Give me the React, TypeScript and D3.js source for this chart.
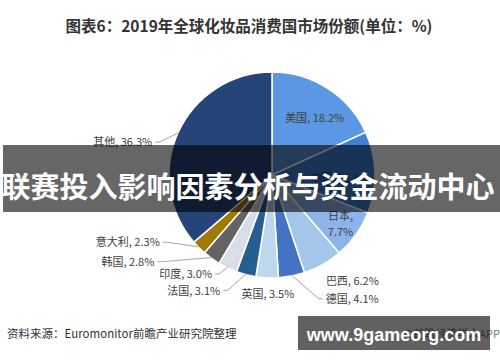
import React from 'react'
import * as d3 from 'd3'

// chart data
const countries = ['美国', '中国', '日本', '巴西', '德国', '英国', '法国', '印度', '韩国', '意大利', '其他']
const shares = [18.2, 12.8, 7.7, 6.2, 4.1, 3.5, 3.1, 3.0, 2.8, 2.3, 36.3]
const sliceColors = ['#5b97e2', '#3f7fd8', '#8db4ea', '#a4c6ea', '#4472c4', '#bdd7ee', '#255e91', '#d9dde5', '#636363', '#9e7b00', '#264478']

const titleText = '图表6：2019年全球化妆品消费国市场份额(单位：%)'
const sourceText = '资料来源：Euromonitor前瞻产业研究院整理'
const bannerText = '联赛投入影响因素分析与资金流动中心'
const siteText = 'www.9gameorg.com'
const appText = '@前瞻经济学人APP'

// where each label sits: angle shift (deg) from slice middle, radius as share of r
const labelSpots: Record<string, { shift: number; k: number; anchor: string; leader?: boolean; wrap?: boolean }> = {
    '美国': { shift: 3.5, k: 0.7, anchor: 'middle' },
    '中国': { shift: 3, k: 0.66, anchor: 'middle' },
    '日本': { shift: 0.3, k: 0.82, anchor: 'middle', wrap: true },
    '巴西': { shift: 3.6, k: 1.13, anchor: 'start' },
    '德国': { shift: -11.5, k: 1.29, anchor: 'start', leader: true },
    '英国': { shift: -0.7, k: 1.15, anchor: 'middle' },
    '法国': { shift: 8.5, k: 1.21, anchor: 'end', leader: true },
    '印度': { shift: 4.6, k: 1.1, anchor: 'end', leader: true },
    '韩国': { shift: 17.2, k: 1.39, anchor: 'end', leader: true },
    '意大利': { shift: 13.6, k: 1.24, anchor: 'end', leader: true },
    '其他': { shift: -8.5, k: 1.18, anchor: 'end', leader: true },
}

const W = 500
const H = 362
const cx = 272
const cy = 175
const r = 103
const font = '"Noto Sans CJK SC", "Noto Sans", sans-serif'

const polar = (a: number, rad: number): [number, number] => [cx + rad * Math.sin(a), cy - rad * Math.cos(a)]

const App = () => {
    const pie = d3.pie<number>().sort(null).value(d => d)
    const slices = pie(shares)
    const arc = d3.arc<d3.PieArcDatum<number>>().innerRadius(0).outerRadius(r)

    return (
        <svg width={W} height={H} style={{ position: 'absolute', left: 0, top: 0, background: '#fff' }} fontFamily={font}>
            <text x={249} y={25} textAnchor="middle" dominantBaseline="central" fontSize={15.5} fontWeight="bold" fill="#333">{titleText}</text>

            <g transform={`translate(${cx},${cy})`}>
                {slices.map((s, i) => (
                    <path key={countries[i]} d={arc(s) || ''} fill={sliceColors[i]} stroke="#fff" strokeWidth={1.5} />
                ))}
            </g>

            {slices.map((s, i) => {
                const name = countries[i]
                const spot = labelSpots[name]
                const mid = (s.startAngle + s.endAngle) / 2
                const [lx, ly] = polar(mid + (spot.shift * Math.PI) / 180, spot.k * r)
                const label = `${name}, ${shares[i].toFixed(1)}%`
                const gap = spot.anchor === 'end' ? -3 : spot.anchor === 'start' ? 3 : 0
                let leader = null
                if (spot.leader) {
                    const [px, py] = polar(mid, r - 1)
                    const bx = spot.anchor === 'end' ? lx + 4 : lx - 4
                    leader = <polyline points={`${px},${py} ${bx},${ly + 1} ${lx},${ly + 1}`} fill="none" stroke="#a6a6a6" strokeWidth={1} />
                }
                return (
                    <g key={name}>
                        {leader}
                        {spot.wrap ? (
                            <text x={lx} y={ly} textAnchor="middle" fontSize={11} fill="#404040">
                                <tspan x={lx} dy={-4}>{name},</tspan>
                                <tspan x={lx} dy={16}>{shares[i].toFixed(1)}%</tspan>
                            </text>
                        ) : (
                            <text x={lx + gap} y={ly} textAnchor={spot.anchor} dominantBaseline="central" fontSize={11} fill="#404040">{label}</text>
                        )}
                    </g>
                )
            })}

            <text x={7} y={333} dominantBaseline="central" fontSize={11.5} fill="#333">{sourceText}</text>

            {/* overlay banner */}
            <rect x={3} y={145} width={W - 3} height={67} fill="rgba(0,0,0,0.6)" />
            <text x={248} y={185} textAnchor="middle" dominantBaseline="central" fontSize={29} fontWeight="bold" fill="#fff">{bannerText}</text>

            {/* site watermark */}
            <text x={500} y={333} textAnchor="end" dominantBaseline="central" fontSize={11} fill="#777">{appText}</text>
            <rect x={298} y={316} width={192} height={34} fill="rgba(0,0,0,0.62)" />
            <text x={394} y={335} textAnchor="middle" dominantBaseline="central" fontSize={18} fontWeight="bold" fill="#fff" fontFamily="'Liberation Sans', Arial, sans-serif">{siteText}</text>
        </svg>
    )
}

export default App
